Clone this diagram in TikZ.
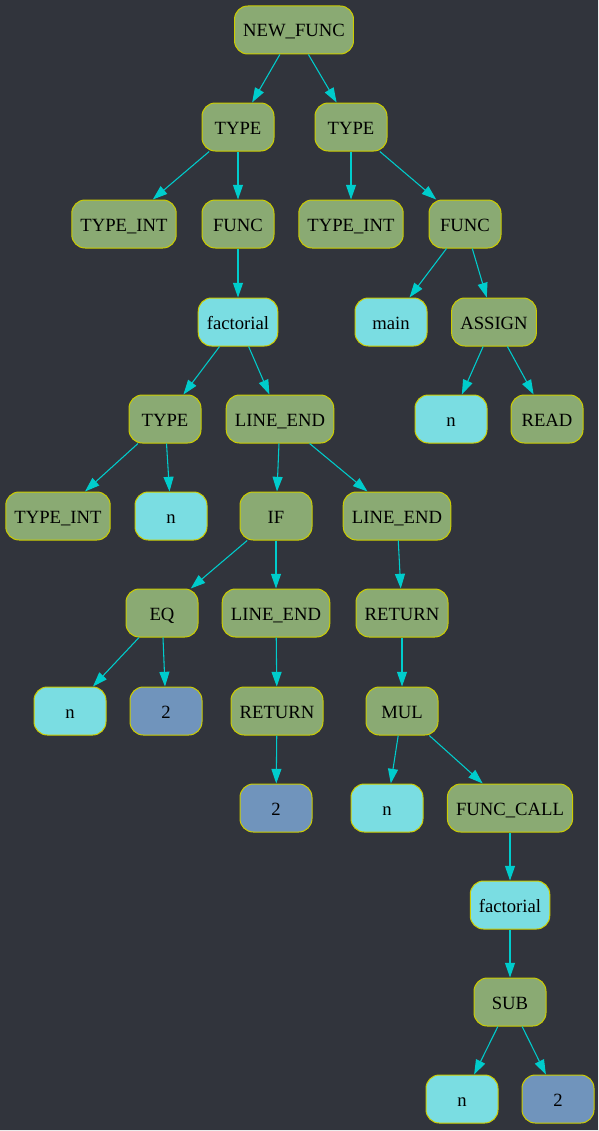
\documentclass[tikz,border=0pt]{standalone}
\usepackage{fontspec}
\setmainfont{Liberation Serif}
\usetikzlibrary{arrows.meta}
\definecolor{bgdark}{RGB}{49,52,60}
\definecolor{astgreen}{RGB}{138,170,115}
\definecolor{idcyan}{RGB}{122,221,226}
\definecolor{numblue}{RGB}{112,148,188}
\definecolor{rimyellow}{RGB}{204,204,0}
\definecolor{edgecyan}{RGB}{0,204,204}
\begin{document}
\begin{tikzpicture}[x=0.75pt,y=-0.75pt,
		tok/.style={draw=rimyellow, line width=0.75pt, rounded corners=10pt,
			minimum width=54pt, minimum height=36pt, inner xsep=6.5pt,
			text height=12.5pt, text depth=2pt,
			font=\fontsize{14}{16}\selectfont, text=black},
		ast/.style={tok, fill=astgreen},
		ident/.style={tok, fill=idcyan},
		num/.style={tok, fill=numblue},
		link/.style={edgecyan, line width=0.8pt, -{Triangle[length=11pt,width=7.5pt]}}]
		\useasboundingbox (0,0) rectangle (599,1131);
		\fill[white!85!gray] (0,0) rectangle (599,1131);
		\fill[bgdark] (0,0) rectangle (598,1130);
		% rows of the tree
		\node[ast] (nf) at (294,30) {NEW\_FUNC};
		\node[ast] (typeA) at (238,127) {TYPE};
		\node[ast] (typeB) at (351,127) {TYPE};
		\node[ast] (tintA) at (124,224) {TYPE\_INT};
		\node[ast] (funcA) at (238,224) {FUNC};
		\node[ast] (tintB) at (351,224) {TYPE\_INT};
		\node[ast] (funcB) at (465,224) {FUNC};
		\node[ident] (fact) at (238,322) {factorial};
		\node[ident] (mainfn) at (391,322) {main};
		\node[ast] (assign) at (494,322) {ASSIGN};
		\node[ast] (typeC) at (165,419) {TYPE};
		\node[ast] (lineA) at (280,419) {LINE\_END};
		\node[ident] (nAssign) at (451,419) {n};
		\node[ast] (readN) at (547,419) {READ};
		\node[ast] (tintC) at (58,516) {TYPE\_INT};
		\node[ident] (nParam) at (171,516) {n};
		\node[ast] (ifN) at (276,516) {IF};
		\node[ast] (lineB) at (397,516) {LINE\_END};
		\node[ast] (eqN) at (162,613) {EQ};
		\node[ast] (lineC) at (276,613) {LINE\_END};
		\node[ast] (retB) at (402,613) {RETURN};
		\node[ident] (nEq) at (70,711) {n};
		\node[num] (twoEq) at (166,711) {2};
		\node[ast] (retA) at (277,711) {RETURN};
		\node[ast] (mul) at (402,711) {MUL};
		\node[num] (twoRet) at (276,808) {2};
		\node[ident] (nMul) at (387,808) {n};
		\node[ast] (fcall) at (510,808) {FUNC\_CALL};
		\node[ident] (factCall) at (510,905) {factorial};
		\node[ast] (sub) at (510,1002) {SUB};
		\node[ident] (nSub) at (462,1099) {n};
		\node[num] (twoSub) at (558,1099) {2};
		% edges parent -> child
		\foreach \p/\c in {nf/typeA, nf/typeB, typeA/tintA, typeA/funcA,
				typeB/tintB, typeB/funcB, funcA/fact, funcB/mainfn, funcB/assign,
				fact/typeC, fact/lineA, assign/nAssign, assign/readN,
				typeC/tintC, typeC/nParam, lineA/ifN, lineA/lineB,
				ifN/eqN, ifN/lineC, lineB/retB, eqN/nEq, eqN/twoEq,
				lineC/retA, retB/mul, retA/twoRet, mul/nMul, mul/fcall,
				fcall/factCall, factCall/sub, sub/nSub, sub/twoSub}
			\draw[link] (\p) -- (\c);
	\end{tikzpicture}
\end{document}
